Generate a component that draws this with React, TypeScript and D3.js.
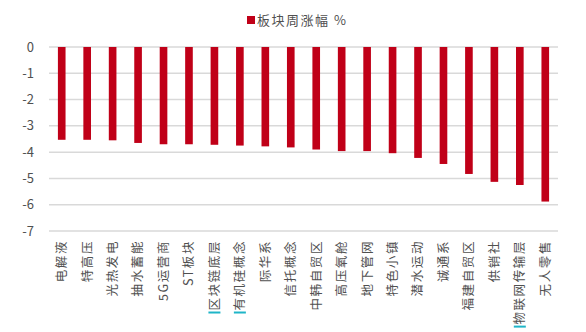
import React, { useEffect, useRef } from 'react';
import * as d3 from 'd3';

const width = 586;
const height = 332;

const categories = [
  '电解液', '特高压', '光热发电', '抽水蓄能', '5G运营商', 'ST板块', '区块链底层',
  '有机硅概念', '际华系', '信托概念', '中韩自贸区', '高压氧舱', '地下管网', '特色小镇',
  '潜水运动', '诚通系', '福建自贸区', '供销社', '物联网传输层', '无人零售',
];
const weeklyChange = [
  -3.53, -3.53, -3.55, -3.65, -3.7, -3.7, -3.72, -3.75, -3.78, -3.82,
  -3.9, -3.96, -3.96, -4.04, -4.22, -4.45, -4.83, -5.13, -5.25, -5.88,
];
const yTicks = [0, -1, -2, -3, -4, -5, -6, -7];
// labels that carry the little cyan marker in the source screenshot
const marked = ['区块链底层', '有机硅概念', '物联网传输层'];
const seriesName = '板块周涨幅 %';

const margin = { top: 47, right: 28, bottom: 101, left: 49 };
const font = '"Noto Sans CJK SC", "Noto Sans", sans-serif';

const App = () => {
  const ref = useRef<SVGSVGElement>(null);

  useEffect(() => {
    const svg = d3.select(ref.current);
    svg.selectAll('*').remove();

    const x = d3
      .scaleBand()
      .domain(categories)
      .range([margin.left, width - margin.right])
      .paddingInner(0.7)
      .paddingOuter(0.35);

    const y = d3
      .scaleLinear()
      .domain([0, -7])
      .range([margin.top, height - margin.bottom]);

    // grid
    svg
      .append('g')
      .selectAll('line')
      .data(yTicks)
      .join('line')
      .attr('x1', margin.left)
      .attr('x2', width - margin.right)
      .attr('y1', d => y(d))
      .attr('y2', d => y(d))
      .attr('stroke', '#d9d9d9')
      .attr('stroke-width', 1.5);

    // y labels
    svg
      .append('g')
      .selectAll('text')
      .data(yTicks)
      .join('text')
      .attr('x', 34)
      .attr('y', d => y(d))
      .attr('dy', '0.35em')
      .attr('text-anchor', 'end')
      .attr('font-family', font)
      .attr('font-size', 13)
      .attr('fill', '#505050')
      .text(d => d);

    // bars
    svg
      .append('g')
      .selectAll('rect')
      .data(categories)
      .join('rect')
      .attr('x', d => x(d))
      .attr('width', x.bandwidth())
      .attr('y', y(0))
      .attr('height', (d, i) => y(weeklyChange[i]) - y(0))
      .attr('fill', '#c00018');

    // x labels, rotated
    const labelTop = 240;
    const labels = svg
      .append('g')
      .selectAll('text')
      .data(categories)
      .join('text')
      .attr('transform', d => `translate(${x(d) + x.bandwidth() / 2},${labelTop}) rotate(-90)`)
      .attr('dy', '0.35em')
      .attr('text-anchor', 'end')
      .attr('font-family', font)
      .attr('font-size', 12.5)
      .attr('letter-spacing', 1.6)
      .attr('fill', '#505050')
      .text(d => d);

    labels.each(function (d) {
      if (!marked.includes(d)) return;
      const len = (this as SVGTextElement).getComputedTextLength();
      svg
        .append('rect')
        .attr('x', x(d) + x.bandwidth() / 2 - 6)
        .attr('y', labelTop + len + 1)
        .attr('width', 12)
        .attr('height', 2)
        .attr('fill', '#1fb5c8');
    });

    // legend
    const legend = svg.append('g').attr('transform', 'translate(247,20)');
    legend
      .append('rect')
      .attr('x', 0)
      .attr('y', -4)
      .attr('width', 8)
      .attr('height', 8)
      .attr('fill', '#c00018');
    legend
      .append('text')
      .attr('x', 10)
      .attr('dy', '0.35em')
      .attr('font-family', font)
      .attr('font-size', 13)
      .attr('letter-spacing', 1.5)
      .attr('fill', '#505050')
      .text(seriesName);
  }, []);

  return (
    <svg
      ref={ref}
      width={width}
      height={height}
      style={{ position: 'absolute', left: 0, top: 0, background: '#fff' }}
    />
  );
};

export default App;
